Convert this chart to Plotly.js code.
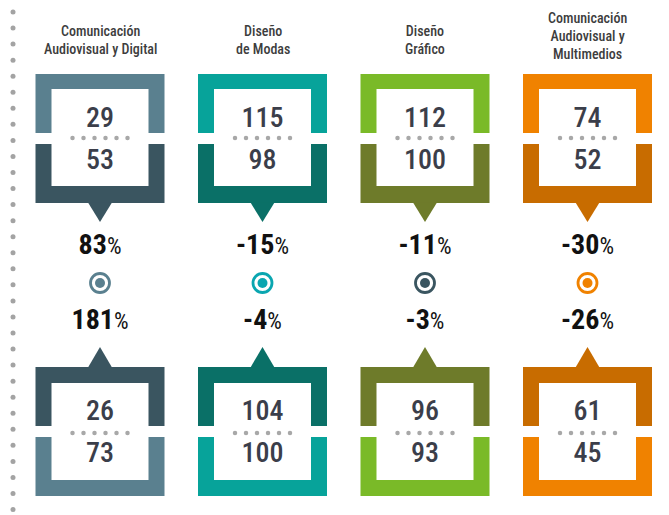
<!DOCTYPE html>
<html>
<head>
<meta charset="utf-8">
<script src="https://cdn.plot.ly/plotly-3.0.1.min.js"></script>
<style>html,body{margin:0;padding:0;background:#fff;}#chart{width:669px;height:515px;}</style>
</head>
<body>
<div id="chart"></div>
<script>
// ---- data ----
const categories = ["Comunicación<br>Audiovisual y Digital", "Diseño<br>de Modas", "Diseño<br>Gráfico", "Comunicación<br>Audiovisual y<br>Multimedios"];
const upperFirst = [29, 115, 112, 74];
const upperSecond = [53, 98, 100, 52];
const upperChange = [83, -15, -11, -30];
const lowerChange = [181, -4, -3, -26];
const lowerFirst = [26, 104, 96, 61];
const lowerSecond = [73, 100, 93, 45];
const lightColors = ["#5a808f", "#07a39a", "#7aba28", "#f08200"];
const darkColors = ["#3a5560", "#0a7067", "#6e7b2a", "#c86c00"];
const iconColors = ["#5a808f", "#0aa6b0", "#3a5560", "#f08200"];

// ---- layout helpers ----
const W = 669, H = 515, colStep = 162.5, firstCol = 100;
const x0 = -firstCol / colStep, x1 = x0 + W / colStep;
const u = px => px / colStep;  // pixel offset -> x units
const FONT = "'Roboto Condensed', 'DejaVu Sans Condensed', sans-serif";
const idx = categories.map((_, i) => i);

const shapes = [];
function rect(i, hw, y0, y1, color) {
  shapes.push({type: 'rect', xref: 'x', yref: 'y', x0: i - u(hw), x1: i + u(hw), y0: y0, y1: y1,
    fillcolor: color, line: {width: 0}, layer: 'below'});
}
function tri(i, yBase, yApex, color) {
  shapes.push({type: 'path', xref: 'x', yref: 'y',
    path: `M ${i - u(12)} ${yBase} L ${i + u(12)} ${yBase} L ${i} ${yApex} Z`,
    fillcolor: color, line: {width: 0}, layer: 'below'});
}
idx.forEach(i => {
  // upper frame
  rect(i, 64.5, 74, 133, lightColors[i]); rect(i, 48.5, 89, 134, '#ffffff');
  rect(i, 64.5, 144, 203, darkColors[i]); rect(i, 48.5, 143, 186, '#ffffff');
  tri(i, 202.5, 222, darkColors[i]);
  // lower frame
  tri(i, 367.5, 347, darkColors[i]);
  rect(i, 64.5, 367, 426, darkColors[i]); rect(i, 48.5, 383, 427, '#ffffff');
  rect(i, 64.5, 437, 496, lightColors[i]); rect(i, 48.5, 436, 480, '#ffffff');
});

// left dotted rule
const ruleY = []; for (let k = 0; k < 32; k++) ruleY.push(12 + 16.05 * k);
const traces = [];
traces.push({x: ruleY.map(() => u(13 - firstCol)), y: ruleY, mode: 'markers', type: 'scatter',
  marker: {size: 5, color: '#a3a3a3'}, hoverinfo: 'skip', cliponaxis: false});

// dotted separators
const sepX = [], sepY = [];
idx.forEach(i => { [-27.5, -16.5, -5.5, 5.5, 16.5, 27.5].forEach(d => { sepX.push(i + u(d)); sepY.push(138); sepX.push(i + u(d)); sepY.push(433); }); });
traces.push({x: sepX, y: sepY, mode: 'markers', type: 'scatter', marker: {size: 4.5, color: '#a8a8a8'}, hoverinfo: 'skip'});

// numbers
function numTrace(vals, y) {
  traces.push({x: idx, y: idx.map(() => y), mode: 'text', type: 'scatter', text: vals.map(String),
    textposition: 'middle center', textfont: {family: FONT, size: 28, weight: 500, color: '#3b3e4a'}, hoverinfo: 'skip'});
}
numTrace(upperFirst, 120); numTrace(upperSecond, 162);
numTrace(lowerFirst, 413); numTrace(lowerSecond, 455);

// percentages
function pctTrace(vals, y) {
  traces.push({x: idx, y: idx.map(() => y), mode: 'text', type: 'scatter',
    text: vals.map(v => `<b>${v}</b><span style="font-size:23px">%</span>`),
    textposition: 'middle center', textfont: {family: FONT, size: 28, color: '#111111'}, hoverinfo: 'skip'});
}
pctTrace(upperChange, 247); pctTrace(lowerChange, 322);

// icons
traces.push({x: idx, y: idx.map(() => 283), mode: 'markers', type: 'scatter',
  marker: {size: 19, color: '#ffffff', line: {width: 2.8, color: iconColors}}, hoverinfo: 'skip'});
traces.push({x: idx, y: idx.map(() => 283), mode: 'markers', type: 'scatter',
  marker: {size: 10, color: iconColors}, hoverinfo: 'skip'});

// titles
const annotations = idx.map(i => ({
  x: i, y: (categories[i].split('<br>').length > 2 ? 36 : 39.5), xref: 'x', yref: 'y',
  text: categories[i], showarrow: false, xanchor: 'center', yanchor: 'middle', align: 'center',
  font: {family: FONT, size: 14, weight: 500, color: '#3d3d3d'}
}));

const layout = {
  width: W, height: H, margin: {l: 0, r: 0, t: 0, b: 0},
  paper_bgcolor: '#ffffff', plot_bgcolor: '#ffffff', showlegend: false,
  xaxis: {range: [x0, x1], visible: false, fixedrange: true},
  yaxis: {range: [H, 0], visible: false, fixedrange: true},
  shapes: shapes, annotations: annotations
};
Plotly.newPlot('chart', traces, layout, {staticPlot: true, displayModeBar: false});
</script>
</body>
</html>
